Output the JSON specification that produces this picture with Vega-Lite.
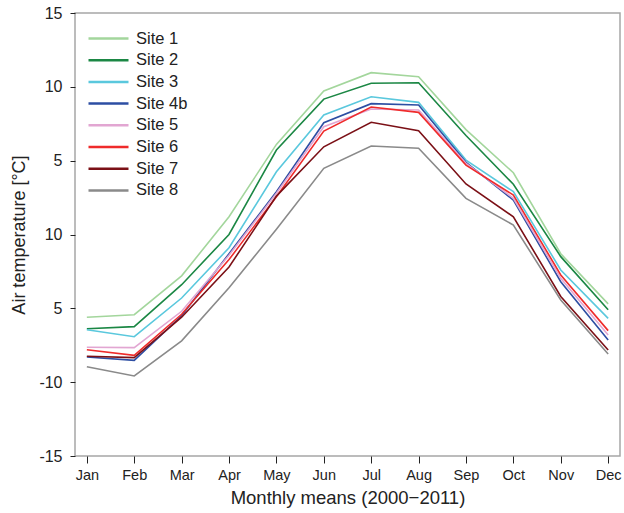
{
  "$schema": "https://vega.github.io/schema/vega-lite/v6.json",
  "width": 545,
  "height": 443,
  "autosize": "none",
  "padding": {"left": 75, "top": 13, "right": 4, "bottom": 57},
  "background": "white",
  "config": {
    "font": "Liberation Sans",
    "view": {"stroke": "#a6a6a6", "strokeWidth": 1.5},
    "axis": {"grid": false, "domain": false, "tickColor": "#222", "labelColor": "#222", "titleColor": "#222", "titleFontWeight": "normal"}
  },
  "data": {"values": [
    {"month": "Jan", "site": "Site 1", "temp": -5.6},
    {"month": "Feb", "site": "Site 1", "temp": -5.43},
    {"month": "Mar", "site": "Site 1", "temp": -2.8},
    {"month": "Apr", "site": "Site 1", "temp": 1.2},
    {"month": "May", "site": "Site 1", "temp": 6.1},
    {"month": "Jun", "site": "Site 1", "temp": 9.72},
    {"month": "Jul", "site": "Site 1", "temp": 10.96},
    {"month": "Aug", "site": "Site 1", "temp": 10.68},
    {"month": "Sep", "site": "Site 1", "temp": 7.1},
    {"month": "Oct", "site": "Site 1", "temp": 4.18},
    {"month": "Nov", "site": "Site 1", "temp": -1.3},
    {"month": "Dec", "site": "Site 1", "temp": -4.7},
    {"month": "Jan", "site": "Site 2", "temp": -6.38},
    {"month": "Feb", "site": "Site 2", "temp": -6.24},
    {"month": "Mar", "site": "Site 2", "temp": -3.4},
    {"month": "Apr", "site": "Site 2", "temp": 0.0},
    {"month": "May", "site": "Site 2", "temp": 5.72},
    {"month": "Jun", "site": "Site 2", "temp": 9.17},
    {"month": "Jul", "site": "Site 2", "temp": 10.24},
    {"month": "Aug", "site": "Site 2", "temp": 10.28},
    {"month": "Sep", "site": "Site 2", "temp": 6.7},
    {"month": "Oct", "site": "Site 2", "temp": 3.4},
    {"month": "Nov", "site": "Site 2", "temp": -1.5},
    {"month": "Dec", "site": "Site 2", "temp": -5.1},
    {"month": "Jan", "site": "Site 3", "temp": -6.45},
    {"month": "Feb", "site": "Site 3", "temp": -6.92},
    {"month": "Mar", "site": "Site 3", "temp": -4.3},
    {"month": "Apr", "site": "Site 3", "temp": -0.9},
    {"month": "May", "site": "Site 3", "temp": 4.25},
    {"month": "Jun", "site": "Site 3", "temp": 8.09},
    {"month": "Jul", "site": "Site 3", "temp": 9.33},
    {"month": "Aug", "site": "Site 3", "temp": 8.95},
    {"month": "Sep", "site": "Site 3", "temp": 5.04},
    {"month": "Oct", "site": "Site 3", "temp": 2.9},
    {"month": "Nov", "site": "Site 3", "temp": -2.4},
    {"month": "Dec", "site": "Site 3", "temp": -5.68},
    {"month": "Jan", "site": "Site 4b", "temp": -8.3},
    {"month": "Feb", "site": "Site 4b", "temp": -8.52},
    {"month": "Mar", "site": "Site 4b", "temp": -5.5},
    {"month": "Apr", "site": "Site 4b", "temp": -1.3},
    {"month": "May", "site": "Site 4b", "temp": 2.9},
    {"month": "Jun", "site": "Site 4b", "temp": 7.57},
    {"month": "Jul", "site": "Site 4b", "temp": 8.86},
    {"month": "Aug", "site": "Site 4b", "temp": 8.77},
    {"month": "Sep", "site": "Site 4b", "temp": 4.89},
    {"month": "Oct", "site": "Site 4b", "temp": 2.33},
    {"month": "Nov", "site": "Site 4b", "temp": -3.2},
    {"month": "Dec", "site": "Site 4b", "temp": -7.14},
    {"month": "Jan", "site": "Site 5", "temp": -7.64},
    {"month": "Feb", "site": "Site 5", "temp": -7.66},
    {"month": "Mar", "site": "Site 5", "temp": -5.2},
    {"month": "Apr", "site": "Site 5", "temp": -1.4},
    {"month": "May", "site": "Site 5", "temp": 2.8},
    {"month": "Jun", "site": "Site 5", "temp": 7.3},
    {"month": "Jul", "site": "Site 5", "temp": 8.5},
    {"month": "Aug", "site": "Site 5", "temp": 8.43},
    {"month": "Sep", "site": "Site 5", "temp": 4.82},
    {"month": "Oct", "site": "Site 5", "temp": 2.45},
    {"month": "Nov", "site": "Site 5", "temp": -2.97},
    {"month": "Dec", "site": "Site 5", "temp": -6.8},
    {"month": "Jan", "site": "Site 6", "temp": -7.8},
    {"month": "Feb", "site": "Site 6", "temp": -8.18},
    {"month": "Mar", "site": "Site 6", "temp": -5.4},
    {"month": "Apr", "site": "Site 6", "temp": -1.7},
    {"month": "May", "site": "Site 6", "temp": 2.56},
    {"month": "Jun", "site": "Site 6", "temp": 7.0},
    {"month": "Jul", "site": "Site 6", "temp": 8.63},
    {"month": "Aug", "site": "Site 6", "temp": 8.27},
    {"month": "Sep", "site": "Site 6", "temp": 4.7},
    {"month": "Oct", "site": "Site 6", "temp": 2.67},
    {"month": "Nov", "site": "Site 6", "temp": -2.74},
    {"month": "Dec", "site": "Site 6", "temp": -6.51},
    {"month": "Jan", "site": "Site 7", "temp": -8.25},
    {"month": "Feb", "site": "Site 7", "temp": -8.34},
    {"month": "Mar", "site": "Site 7", "temp": -5.6},
    {"month": "Apr", "site": "Site 7", "temp": -2.2},
    {"month": "May", "site": "Site 7", "temp": 2.6},
    {"month": "Jun", "site": "Site 7", "temp": 5.94},
    {"month": "Jul", "site": "Site 7", "temp": 7.6},
    {"month": "Aug", "site": "Site 7", "temp": 7.03},
    {"month": "Sep", "site": "Site 7", "temp": 3.42},
    {"month": "Oct", "site": "Site 7", "temp": 1.2},
    {"month": "Nov", "site": "Site 7", "temp": -4.2},
    {"month": "Dec", "site": "Site 7", "temp": -7.82},
    {"month": "Jan", "site": "Site 8", "temp": -8.95},
    {"month": "Feb", "site": "Site 8", "temp": -9.58},
    {"month": "Mar", "site": "Site 8", "temp": -7.2},
    {"month": "Apr", "site": "Site 8", "temp": -3.6},
    {"month": "May", "site": "Site 8", "temp": 0.35},
    {"month": "Jun", "site": "Site 8", "temp": 4.48},
    {"month": "Jul", "site": "Site 8", "temp": 5.99},
    {"month": "Aug", "site": "Site 8", "temp": 5.84},
    {"month": "Sep", "site": "Site 8", "temp": 2.45},
    {"month": "Oct", "site": "Site 8", "temp": 0.64},
    {"month": "Nov", "site": "Site 8", "temp": -4.43},
    {"month": "Dec", "site": "Site 8", "temp": -8.09}
  ]},
  "mark": {"type": "line", "strokeWidth": 1.6},
  "encoding": {
    "x": {
      "field": "month", "type": "ordinal",
      "sort": ["Jan","Feb","Mar","Apr","May","Jun","Jul","Aug","Sep","Oct","Nov","Dec"],
      "scale": {"type": "point", "padding": 0.25},
      "axis": {"title": "Monthly means (2000\u22122011)", "labelAngle": 0, "labelFontSize": 14.5, "titleFontSize": 18.5, "tickSize": 7, "labelPadding": 5, "titlePadding": 7}
    },
    "y": {
      "field": "temp", "type": "quantitative",
      "scale": {"domain": [-15, 15], "nice": false, "zero": false},
      "axis": {"title": "Air temperature [\u00b0C]", "values": [-15,-10,-5,0,5,10,15], "labelExpr": "datum.value == 0 ? '10' : datum.value == -5 ? '5' : toString(datum.value)", "labelFontSize": 16, "titleFontSize": 18, "tickSize": 5, "labelPadding": 8, "titlePadding": 10}
    },
    "color": {
      "field": "site", "type": "nominal",
      "scale": {
        "domain": ["Site 1","Site 2","Site 3","Site 4b","Site 5","Site 6","Site 7","Site 8"],
        "range": ["#a3d69c","#1b8744","#5ac8dd","#2d4ea3","#e2a6d2","#ef2b2b","#7b1016","#8a8a8a"]
      },
      "legend": {
        "title": null, "orient": "none", "legendX": 22, "legendY": 14,
        "symbolType": "M-2,0H2", "symbolSize": 400, "symbolStrokeWidth": 2.5,
        "labelFontSize": 16.5, "labelColor": "#222", "labelOffset": 16, "rowPadding": 1.7
      }
    }
  }
}
